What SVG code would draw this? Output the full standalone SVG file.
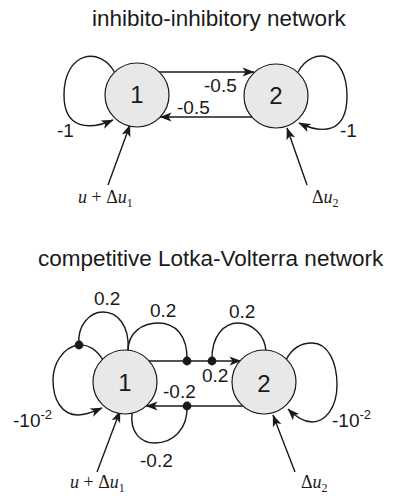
<svg xmlns="http://www.w3.org/2000/svg" width="397" height="496" viewBox="0 0 397 496">
<style>
.title{font-family:"Liberation Sans",Arial,sans-serif;font-size:22.5px;fill:#1a1a1a}
.lbl{font-family:"Liberation Sans",Arial,sans-serif;font-size:19px;fill:#1a1a1a}
.num{font-family:"Liberation Sans",Arial,sans-serif;font-size:24px;fill:#1a1a1a;text-anchor:middle}
.math{font-family:"Liberation Serif","Times New Roman",serif;font-size:18px;fill:#1a1a1a}
.node{fill:#e8e8e8;stroke:#1a1a1a;stroke-width:1.2}
.edge{fill:none;stroke:#1a1a1a;stroke-width:1.4}
.arr{marker-end:url(#ah)}
.dot{fill:#1a1a1a}
</style>
<defs>
<marker id="ah" viewBox="0 0 12 10" markerWidth="13" markerHeight="10" refX="11.5" refY="5" orient="auto" markerUnits="userSpaceOnUse">
<path d="M0,0.5 L12,5 L0,9.5 L3,5 z" fill="#1a1a1a"/>
</marker>
</defs>

<text class="title" x="92" y="26">inhibito-inhibitory network</text>
<text class="title" x="38" y="266">competitive Lotka-Volterra network</text>

<g id="connectors">
<!-- top network -->
<path class="edge arr" d="M159,72 H254"/>
<path class="edge arr" d="M252,117 H160"/>
<path class="edge arr" d="M115,73 C100,45 64,52 64,95 C64,130 90,130 113,120"/>
<path class="edge arr" d="M298,72 C313,45 347,52 347,96 C347,134 322,134 299,123"/>
<path class="edge arr" d="M108,185 L130,125"/>
<path class="edge arr" d="M307,185 L287,128"/>
<!-- bottom network -->
<path class="edge arr" d="M149,361 H241"/>
<path class="edge arr" d="M243,406 H146"/>
<path class="edge arr" d="M103,360 C97,350 88,344 79,345 C62,347 53,365 53,380 C53,400 62,415 78,415 C88,415 95,411 102,408"/>
<path class="edge" d="M79,345 C77,325 90,312 103,312 C117,312 130,325 128,351"/>
<path class="edge" d="M128,351 C128,332 143,323 158,323 C175,323 188,335 187,361"/>
<path class="edge" d="M212,361 C211,335 225,323 238,323 C252,323 265,335 266,351"/>
<path class="edge" d="M132,413 C130,432 140,443 155,443 C172,443 188,430 187,406"/>
<path class="edge arr" d="M286,360 C292,348 302,343 312,343 C328,343 337,362 337,385 C337,408 325,422 312,422 C302,422 294,415 288,409"/>
<path class="edge arr" d="M97,472 L120,411"/>
<path class="edge arr" d="M295,472 L273,415"/>
<circle class="dot" cx="79" cy="345" r="4.4"/>
<circle class="dot" cx="187" cy="361" r="4.4"/>
<circle class="dot" cx="212" cy="361" r="4.4"/>
<circle class="dot" cx="187" cy="406" r="4.4"/>
</g>

<g id="n1-top">
<circle class="node" cx="137" cy="95" r="32"/>
<text class="num" x="137" y="103">1</text>
</g>
<g id="n2-top">
<circle class="node" cx="276" cy="96" r="32"/>
<text class="num" x="276" y="104">2</text>
</g>
<g id="n1-bottom">
<circle class="node" cx="125" cy="382" r="32"/>
<text class="num" x="125" y="391">1</text>
</g>
<g id="n2-bottom">
<circle class="node" cx="264" cy="382" r="32"/>
<text class="num" x="264" y="392">2</text>
</g>

<g id="labels">
<text class="lbl" x="204" y="92">-0.5</text>
<text class="lbl" x="177" y="114">-0.5</text>
<text class="lbl" x="57" y="137">-1</text>
<text class="lbl" x="340" y="137">-1</text>
<text class="math" x="78" y="203"><tspan font-style="italic">u</tspan> + Δ<tspan font-style="italic">u</tspan><tspan font-size="12" dy="4">1</tspan></text>
<text class="math" x="312" y="203">Δ<tspan font-style="italic">u</tspan><tspan font-size="12" dy="4">2</tspan></text>

<text class="lbl" x="94" y="305">0.2</text>
<text class="lbl" x="150" y="317">0.2</text>
<text class="lbl" x="229" y="318">0.2</text>
<text class="lbl" x="202" y="382">0.2</text>
<text class="lbl" x="163" y="398">-0.2</text>
<text class="lbl" x="140" y="467">-0.2</text>
<text class="lbl" x="13" y="427">-10<tspan font-size="13" dy="-8">-2</tspan></text>
<text class="lbl" x="332" y="427">-10<tspan font-size="13" dy="-8">-2</tspan></text>
<text class="math" x="70" y="488"><tspan font-style="italic">u</tspan> + Δ<tspan font-style="italic">u</tspan><tspan font-size="12" dy="4">1</tspan></text>
<text class="math" x="301" y="488">Δ<tspan font-style="italic">u</tspan><tspan font-size="12" dy="4">2</tspan></text>
</g>
</svg>
